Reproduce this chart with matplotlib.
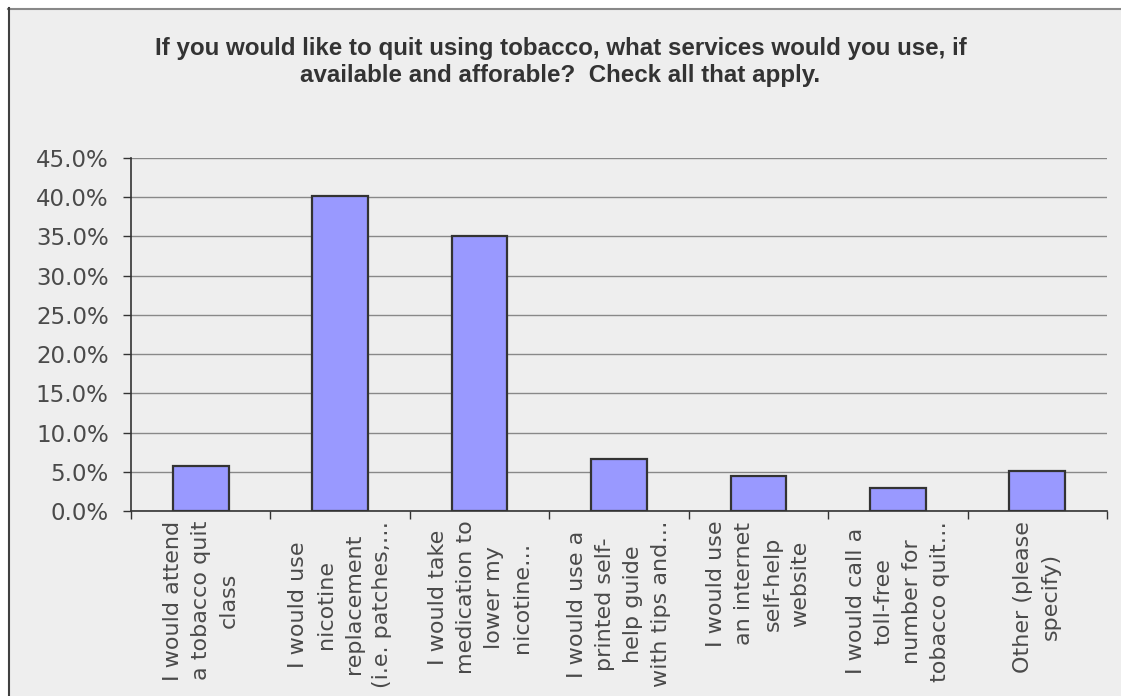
import numpy as np
import matplotlib.pyplot as plt
from matplotlib.patches import Rectangle
from matplotlib.lines import Line2D

# survey answers (share of respondents)
categories = [
    "I would attend\na tobacco quit\nclass",
    "I would use\nnicotine\nreplacement\n(i.e. patches,\u2026",
    "I would take\nmedication to\nlower my\nnicotine\u2026",
    "I would use a\nprinted self-\nhelp guide\nwith tips and\u2026",
    "I would use\nan internet\nself-help\nwebsite",
    "I would call a\ntoll-free\nnumber for\ntobacco quit\u2026",
    "Other (please\nspecify)",
]
values = [5.8, 40.1, 35.0, 6.6, 4.4, 2.9, 5.1]
yticks = [0, 5, 10, 15, 20, 25, 30, 35, 40, 45]

title = ("If you would like to quit using tobacco, what services would you use, if\n"
         "available and afforable?  Check all that apply.")

W, H = 1121, 696
fig = plt.figure(figsize=(W / 100, H / 100), dpi=100)
fig.patch.set_facecolor("white")

# chart frame background
fig.patches.append(Rectangle((8 / W, 0), 1, 1 - 8 / H, transform=fig.transFigure,
                             facecolor="#eeeeee", edgecolor="none", zorder=-10))
fig.lines.append(Line2D([8 / W, 1], [1 - 8.5 / H, 1 - 8.5 / H], transform=fig.transFigure,
                        color="#888888", lw=1.5, zorder=-5))
fig.lines.append(Line2D([8.5 / W, 8.5 / W], [0, 1 - 8 / H], transform=fig.transFigure,
                        color="#404040", lw=1.5, zorder=-5))

fig.text(0.5, 1 - 37 / H, title, ha="center", va="top", fontsize=17.4,
         fontweight="bold", family="Liberation Sans", color="#333333", linespacing=1.2)

ax = fig.add_axes([131 / W, (H - 511) / H, 976 / W, 353 / H])
ax.set_facecolor("none")

x = np.arange(len(values))
ax.bar(x, values, width=0.4, color="#9999ff", edgecolor="#333333", linewidth=1.6, zorder=3)

ax.set_xlim(-0.5, len(values) - 0.5)
ax.set_ylim(0, 45)
ax.set_yticks(yticks)
ax.set_yticklabels([f"{v:.1f}%" for v in yticks])
ax.yaxis.grid(True, color="#888888", linewidth=1)
ax.set_axisbelow(True)

for s in ["top", "right"]:
    ax.spines[s].set_visible(False)
for s in ["left", "bottom"]:
    ax.spines[s].set_color("#333333")
    ax.spines[s].set_linewidth(1.2)

ax.tick_params(axis="y", length=6, width=1, color="#333333", pad=10,
               labelsize=16.5, labelcolor="#4a4a4a")

ax.set_xticks(x)
ax.set_xticklabels(categories, rotation=90, ha="center", va="top",
                   multialignment="center", fontsize=16, color="#4a4a4a",
                   linespacing=1.5)
ax.tick_params(axis="x", length=0, pad=7)
ax.set_xticks(np.arange(-0.5, len(values)), minor=True)
ax.tick_params(axis="x", which="minor", length=6, width=1, color="#333333")

fig.savefig("out.png", dpi=100)
